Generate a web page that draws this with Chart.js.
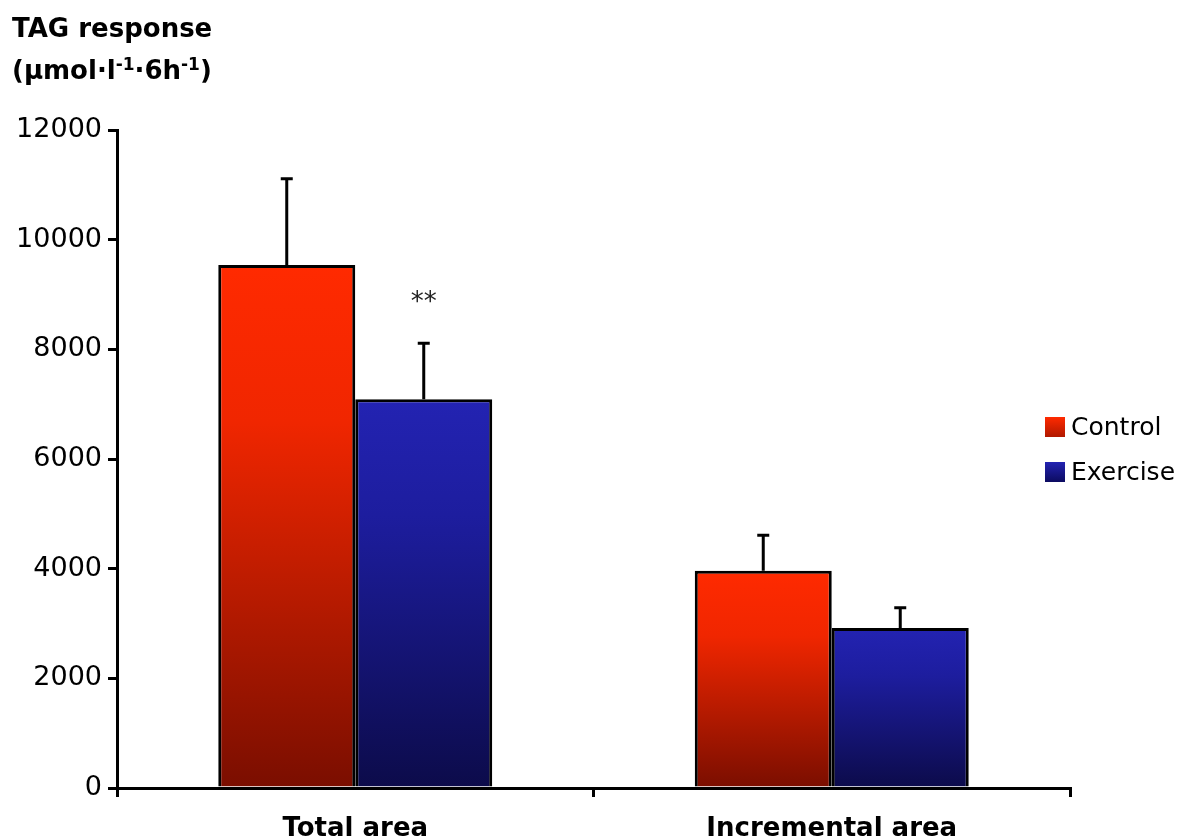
<!DOCTYPE html>
<html>
<head>
<meta charset="utf-8">
<title>TAG response</title>
<script src="https://cdn.jsdelivr.net/npm/chart.js@4.4.1/dist/chart.umd.min.js"></script>
<style>
  html, body { margin: 0; padding: 0; background: #fff; }
  #wrap { width: 1190px; height: 840px; position: relative; }
</style>
</head>
<body>
<div id="wrap"><canvas id="chart" width="1190" height="840"></canvas></div>
<script>
// TAG area under the curve, mean and SEM
const categories = ['Total area', 'Incremental area'];
const controlValues = [9540, 3960];
const controlErrors = [1570, 650];
const exerciseValues = [7090, 2920];
const exerciseErrors = [1020, 365];
const significance = ['**', ''];
const yTicks = [0, 2000, 4000, 6000, 8000, 10000, 12000];

const FONT = '"DejaVu Sans", Verdana, sans-serif';

// vertical fill for every bar, bright at the top and dark at the base
function barGradient(stops) {
  return (ctx) => {
    const chart = ctx.chart;
    if (!chart.chartArea || ctx.raw === undefined) return stops[0][1];
    const y = chart.scales.y;
    const top = y.getPixelForValue(ctx.raw);
    const base = y.getPixelForValue(0);
    const g = chart.ctx.createLinearGradient(0, top, 0, base);
    stops.forEach(s => g.addColorStop(s[0], s[1]));
    return g;
  };
}

const redStops = [[0, '#ff2a00'], [0.3, '#f02600'], [1, '#7a0e00']];
const blueStops = [[0, '#2323b2'], [0.3, '#1d1d9e'], [1, '#0c0b4a']];

const errorBars = {
  id: 'errorBars',
  afterDatasetsDraw(chart) {
    const ctx = chart.ctx;
    const y = chart.scales.y;
    ctx.save();
    ctx.strokeStyle = '#000';
    ctx.lineWidth = 3;
    chart.data.datasets.forEach((ds, i) => {
      const meta = chart.getDatasetMeta(i);
      meta.data.forEach((bar, j) => {
        const top = y.getPixelForValue(ds.data[j]);
        const cap = y.getPixelForValue(ds.data[j] + ds.errors[j]);
        ctx.beginPath();
        ctx.moveTo(bar.x, top);
        ctx.lineTo(bar.x, cap);
        ctx.moveTo(bar.x - 6, cap);
        ctx.lineTo(bar.x + 6, cap);
        ctx.stroke();
        if (ds.marks && ds.marks[j]) {
          ctx.fillStyle = '#222';
          ctx.font = '26px ' + FONT;
          ctx.textAlign = 'center';
          ctx.textBaseline = 'middle';
          ctx.fillText(ds.marks[j], bar.x, cap - 40);
        }
      });
    });
    ctx.restore();
  }
};

const labelsAndLegend = {
  id: 'labelsAndLegend',
  afterDraw(chart) {
    const ctx = chart.ctx;
    ctx.save();
    ctx.fillStyle = '#000';
    ctx.textBaseline = 'alphabetic';
    ctx.textAlign = 'left';

    // axis title, two lines at the top left
    ctx.font = 'bold 26px ' + FONT;
    ctx.fillText('TAG response', 12, 37);
    let x = 12;
    const line2 = [['(µmol·l', 0], ['-1', 1], ['·6h', 0], ['-1', 1], [')', 0]];
    line2.forEach(([t, sup]) => {
      ctx.font = (sup ? 'bold 17px ' : 'bold 26px ') + FONT;
      ctx.fillText(t, x, sup ? 70 : 79);
      x += ctx.measureText(t).width;
    });

    // category labels under the x axis
    const xs = chart.scales.x;
    ctx.font = 'bold 26px ' + FONT;
    ctx.textAlign = 'center';
    categories.forEach((c, i) => ctx.fillText(c, xs.getPixelForValue(i), 836));

    // legend
    ctx.textAlign = 'left';
    ctx.textBaseline = 'middle';
    ctx.font = '25px ' + FONT;
    chart.data.datasets.forEach((ds, i) => {
      const ly = 427 + i * 45;
      const g = ctx.createLinearGradient(0, ly - 10, 0, ly + 10);
      ds.legendStops.forEach(s => g.addColorStop(s[0], s[1]));
      ctx.fillStyle = g;
      ctx.fillRect(1045, ly - 10, 20, 20);
      ctx.fillStyle = '#000';
      ctx.fillText(ds.label, 1071, ly + 1);
    });
    ctx.restore();
  }
};

new Chart(document.getElementById('chart'), {
  type: 'bar',
  data: {
    labels: categories,
    datasets: [
      {
        label: 'Control',
        data: controlValues,
        errors: controlErrors,
        backgroundColor: barGradient(redStops),
        legendStops: [[0, '#ff2a00'], [1, '#b01800']],
        borderColor: '#000',
        borderWidth: 3,
        borderSkipped: 'bottom'
      },
      {
        label: 'Exercise',
        data: exerciseValues,
        errors: exerciseErrors,
        marks: significance,
        backgroundColor: barGradient(blueStops),
        legendStops: [[0, '#2323b2'], [1, '#0c0b60']],
        borderColor: '#000',
        borderWidth: 3,
        borderSkipped: 'bottom'
      }
    ]
  },
  options: {
    responsive: false,
    animation: false,
    categoryPercentage: 0.575,
    barPercentage: 1,
    layout: { padding: { top: 130, right: 120, left: 0, bottom: 0 } },
    plugins: { legend: { display: false }, tooltip: { enabled: false } },
    scales: {
      x: {
        ticks: { display: false },
        grid: { offset: true, drawOnChartArea: false, color: '#000', lineWidth: 3, tickLength: 9 },
        border: { color: '#000', width: 3 },
        afterFit: s => { s.height = 52; }
      },
      y: {
        min: 0,
        max: 12000,
        afterBuildTicks: s => { s.ticks = yTicks.map(v => ({ value: v })); },
        ticks: {
          color: '#000',
          font: { family: FONT, size: 27 },
          padding: 6,
          callback: v => String(v)
        },
        grid: { drawOnChartArea: false, color: '#000', lineWidth: 3, tickLength: 9 },
        border: { color: '#000', width: 3 },
        afterFit: s => { s.width = 117; }
      }
    }
  },
  plugins: [errorBars, labelsAndLegend]
});
</script>
</body>
</html>
